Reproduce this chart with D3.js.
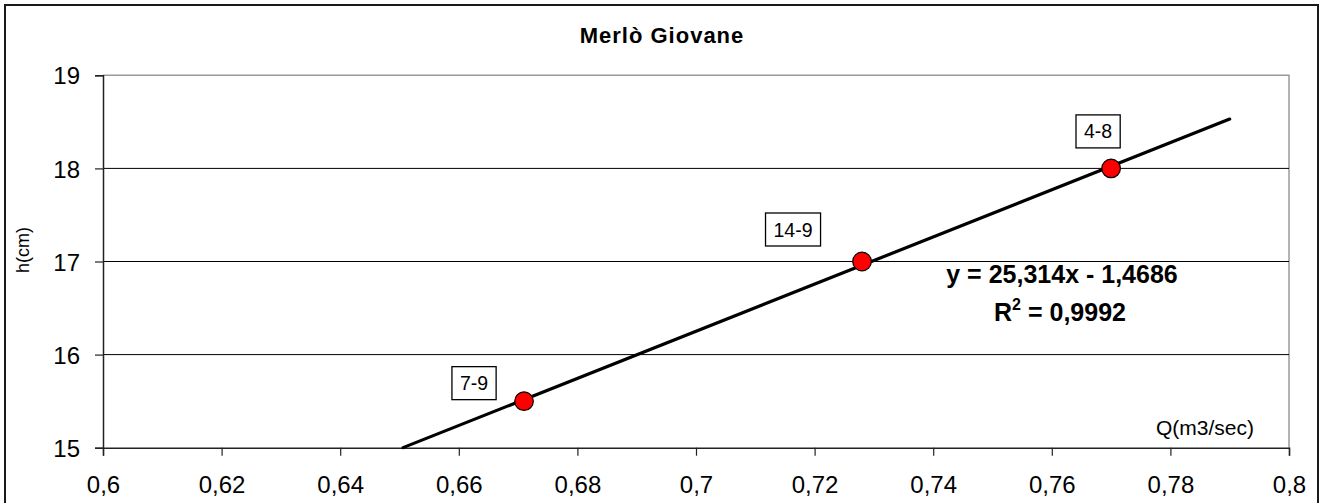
<!DOCTYPE html>
<html>
<head>
<meta charset="utf-8">
<script src="https://cdn.jsdelivr.net/npm/d3@7"></script>
<style>
  html, body { margin: 0; padding: 0; background: #fff; }
  svg { display: block; font-family: "Liberation Sans", Arial, sans-serif; }
</style>
</head>
<body>
<svg id="chart" width="1323" height="503"></svg>
<script>
// Rating curve: water level vs. discharge
const title = "Merlò Giovane";
const dates = ["7-9", "14-9", "4-8"];
const discharge = [0.671, 0.728, 0.770];
const level = [15.5, 17.0, 18.0];
const xTickValues = [0.6, 0.62, 0.64, 0.66, 0.68, 0.7, 0.72, 0.74, 0.76, 0.78, 0.8];
const yTickValues = [15, 16, 17, 18, 19];
const trendSlope = 25.314;
const trendIntercept = -1.4686;
const trendR2 = 0.9992;
const trendDomain = [0.6506, 0.79];

// label box placement relative to its point (px)
const labelOffsets = [[-50, -18], [-69, -32], [-13, -37]];

const svg = d3.select("#chart");
const plot = { left: 103, right: 1289, top: 75.3, bottom: 447.7 };

const it = d3.formatLocale({ decimal: ",", thousands: ".", grouping: [3], currency: ["", "€"] });
const fmtTick = it.format(".2~f");

const x = d3.scaleLinear().domain([0.6, 0.8]).range([plot.left, plot.right]);
const y = d3.scaleLinear().domain([15, 19]).range([plot.bottom, plot.top]);

// outer frame
svg.append("rect")
  .attr("x", 5).attr("y", 5).attr("width", 1313).attr("height", 510)
  .attr("fill", "none").attr("stroke", "#1a1a1a").attr("stroke-width", 2);

// title
svg.append("text")
  .attr("x", 662).attr("y", 43)
  .attr("text-anchor", "middle")
  .attr("font-weight", "bold").attr("font-size", 22)
  .attr("letter-spacing", 1)
  .text(title);

// plot area outline (top/right grey)
svg.append("path")
  .attr("d", `M${plot.left},${plot.top}H${plot.right}V${plot.bottom}`)
  .attr("fill", "none").attr("stroke", "#9a9a9a").attr("stroke-width", 1.5);

// horizontal gridlines
svg.append("g")
  .selectAll("line")
  .data(yTickValues.filter(v => v > 15 && v < 19))
  .join("line")
  .attr("x1", plot.left).attr("x2", plot.right)
  .attr("y1", d => y(d)).attr("y2", d => y(d))
  .attr("stroke", "#000").attr("stroke-width", 1);

// axes
const xAxis = svg.append("g")
  .attr("transform", `translate(0,${plot.bottom})`)
  .call(d3.axisBottom(x).tickValues(xTickValues).tickFormat(fmtTick).tickSizeOuter(0).tickSize(8).tickPadding(20));
const yAxis = svg.append("g")
  .attr("transform", `translate(${plot.left},0)`)
  .call(d3.axisLeft(y).tickValues(yTickValues).tickFormat(d3.format("d")).tickSizeOuter(0).tickSize(8).tickPadding(15));

[xAxis, yAxis].forEach(g => {
  g.select(".domain").attr("stroke", "#222").attr("stroke-width", 1.5);
  g.selectAll(".tick line").attr("stroke", "#222").attr("stroke-width", 1.2);
  g.selectAll(".tick text")
    .attr("font-family", "'Liberation Sans', Arial, sans-serif")
    .attr("font-size", 24).attr("fill", "#000");
});
yAxis.selectAll(".tick text").attr("dy", "0.36em");

// axis titles
svg.append("text")
  .attr("x", 1254).attr("y", 435)
  .attr("text-anchor", "end")
  .attr("font-size", 21)
  .text("Q(m3/sec)");
svg.append("text")
  .attr("transform", "translate(29,250) rotate(-90)")
  .attr("text-anchor", "middle")
  .attr("font-size", 18)
  .text("h(cm)");

// linear trendline
svg.append("line")
  .attr("x1", x(trendDomain[0])).attr("y1", y(trendSlope * trendDomain[0] + trendIntercept))
  .attr("x2", x(trendDomain[1])).attr("y2", y(trendSlope * trendDomain[1] + trendIntercept))
  .attr("stroke", "#000").attr("stroke-width", 3.2).attr("stroke-linecap", "round");

// observations
const pts = dates.map((d, i) => ({ label: d, q: discharge[i], h: level[i], off: labelOffsets[i] }));
svg.append("g")
  .selectAll("circle")
  .data(pts)
  .join("circle")
  .attr("cx", d => x(d.q)).attr("cy", d => y(d.h))
  .attr("r", 9.3)
  .attr("fill", "#ff0000").attr("stroke", "#000").attr("stroke-width", 1.2);

// boxed date labels
const lab = svg.append("g").selectAll("g").data(pts).join("g")
  .attr("transform", d => `translate(${x(d.q) + d.off[0]},${y(d.h) + d.off[1]})`);
lab.append("text")
  .attr("text-anchor", "middle").attr("dy", "0.36em")
  .attr("font-size", 19.5)
  .text(d => d.label);
lab.each(function () {
  const g = d3.select(this);
  const bb = g.select("text").node().getBBox();
  g.insert("rect", "text")
    .attr("x", bb.x - 8).attr("y", -16.5)
    .attr("width", bb.width + 16).attr("height", 33)
    .attr("fill", "#fff").attr("stroke", "#000").attr("stroke-width", 1.3);
});

// regression equation
const fmtCoef = it.format(".3~f");
const fmtInt = it.format(".4~f");
const eq = svg.append("g").attr("font-weight", "bold").attr("font-size", 25).attr("text-anchor", "middle");
eq.append("text")
  .attr("x", 1062).attr("y", 283)
  .text(`y = ${fmtCoef(trendSlope)}x ${trendIntercept < 0 ? "-" : "+"} ${fmtInt(Math.abs(trendIntercept))}`);
const r2t = eq.append("text").attr("x", 1060).attr("y", 321);
r2t.append("tspan").text("R");
r2t.append("tspan").attr("font-size", 16).attr("dy", -11).text("2");
r2t.append("tspan").attr("dy", 11).text(` = ${fmtInt(trendR2)}`);
</script>
</body>
</html>
